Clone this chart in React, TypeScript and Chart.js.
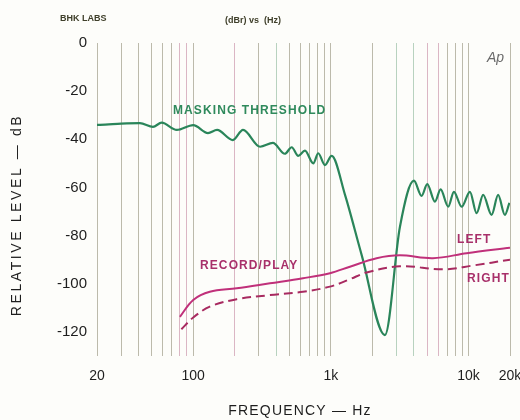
import React, { useEffect, useRef } from 'react';
import { Chart, registerables } from 'chart.js';

Chart.register(...registerables);

// ---- data ----
const maskFreq = [20, 21, 30, 41, 51, 59, 76, 100, 128, 149, 194, 230, 306, 379, 463, 519, 579, 648, 745, 809, 905, 1012, 1265, 1672, 2469, 3172, 4010, 4560, 5010, 5697, 6266, 7114, 7828, 8904, 10230, 11440, 12770, 14690, 16400, 18360, 19800];
const maskLevel = [-34, -34, -33.5, -33.3, -34.8, -33.1, -36.1, -34.1, -37.4, -36.1, -40.3, -36.1, -43.1, -41.5, -46, -43.3, -46.9, -44.7, -50, -45.8, -50.7, -46.9, -63, -88, -121.3, -76.4, -57.2, -63.5, -58.6, -65.9, -60.8, -68, -61.8, -68, -61.8, -70.7, -63.1, -71.4, -63.1, -71.4, -66.4];

const leftFreq = [80, 100, 132, 207, 361, 627, 984, 1375, 2148, 3172, 5508, 9680, 20000];
const leftLevel = [-113.7, -106.7, -103.3, -101.9, -99.8, -97.7, -95.6, -92.9, -89.4, -88.2, -89.4, -87.3, -85];

const rightFreq = [82, 100, 132, 207, 361, 627, 984, 1375, 1818, 3172, 6544, 10800, 20000];
const rightLevel = [-118.9, -114, -109.5, -106.4, -104.7, -103.3, -101.2, -98.1, -95.3, -92.7, -94, -92.4, -90];

const xTickValues = [20, 100, 1000, 10000, 20000];
const xTickLabels = ['20', '100', '1k', '10k', '20k'];
const yTickValues = [0, -20, -40, -60, -80, -100, -120];

const gridFreqs: number[] = [];
for (const d of [10, 100, 1000, 10000]) {
  for (let m = 1; m <= 9; m++) {
    const f = m * d;
    if (f >= 20 && f <= 20000) gridFreqs.push(f);
  }
}

const pinkGrid = [80, 90, 200, 5000, 6000];
const greenGrid = [400, 3000, 4000];

const toPts = (xs: number[], ys: number[]) => xs.map((x, i) => ({ x, y: ys[i] }));

const FONT = '"Liberation Sans", Arial, sans-serif';

const annotations = {
  id: 'annotations',
  beforeDraw(chart: any) {
    const c = chart.ctx;
    c.save();
    c.fillStyle = '#fdfdfa';
    c.fillRect(0, 0, chart.width, chart.height);
    c.restore();
  },
  afterDraw(chart: any) {
    const c = chart.ctx as any;
    const txt = (s: string, x: number, y: number, font: string, color: string, spacing = '0px', align: CanvasTextAlign = 'left') => {
      c.save();
      c.font = font;
      c.fillStyle = color;
      c.letterSpacing = spacing;
      c.textAlign = align;
      c.textBaseline = 'middle';
      c.fillText(s, x, y);
      c.restore();
    };
    txt('BHK LABS', 60, 19, `bold 9px ${FONT}`, '#3f3f2a', '0px');
    txt('(dBr) vs  (Hz)', 225, 21, `bold 9px ${FONT}`, '#3f3f2a', '0px');
    txt('Ap', 487, 58, `italic 14px ${FONT}`, '#6a6a6a', '0px');
    txt('MASKING THRESHOLD', 173, 111, `bold 12px ${FONT}`, '#2f8a5c', '1.1px');
    txt('RECORD/PLAY', 200, 266, `bold 12px ${FONT}`, '#a8306a', '1.1px');
    txt('LEFT', 457, 240, `bold 12px ${FONT}`, '#a8306a', '1.1px');
    txt('RIGHT', 467, 279, `bold 12px ${FONT}`, '#a8306a', '1.1px');
    txt('FREQUENCY — Hz', 300, 411, `14px ${FONT}`, '#1e1e1e', '1.2px', 'center');
    c.save();
    c.translate(17, 215);
    c.rotate(-Math.PI / 2);
    c.font = `14px ${FONT}`;
    c.letterSpacing = '2.6px';
    c.fillStyle = '#1e1e1e';
    c.textAlign = 'center';
    c.textBaseline = 'middle';
    c.fillText('RELATIVE LEVEL — dB', 0, 0);
    c.restore();
  },
};

export default function App() {
  const ref = useRef<HTMLCanvasElement>(null);
  useEffect(() => {
    if (!ref.current) return;
    const chart = new Chart(ref.current, {
      type: 'line',
      data: {
        datasets: [
          {
            label: 'Left',
            data: toPts(leftFreq, leftLevel),
            borderColor: '#c0307a',
            borderWidth: 2,
            pointRadius: 0,
            tension: 0.35,
            fill: false,
          },
          {
            label: 'Right',
            data: toPts(rightFreq, rightLevel),
            borderColor: '#a82a60',
            borderWidth: 2,
            borderDash: [9, 5],
            pointRadius: 0,
            tension: 0.35,
            fill: false,
          },
          {
            label: 'Masking threshold',
            data: toPts(maskFreq, maskLevel),
            borderColor: '#2a855a',
            borderWidth: 2.2,
            pointRadius: 0,
            cubicInterpolationMode: 'monotone',
            fill: false,
          },
        ],
      },
      options: {
        responsive: false,
        animation: false,
        parsing: false as any,
        layout: { padding: { left: 0, top: 43, right: 10, bottom: 0 } },
        plugins: { legend: { display: false }, tooltip: { enabled: false }, title: { display: false } },
        scales: {
          x: {
            type: 'logarithmic',
            min: 20,
            max: 20000,
            border: { display: false },
            grid: {
              drawTicks: false,
              lineWidth: 1,
              color: (ctx: any) => {
                const v = ctx.tick?.value;
                if (pinkGrid.includes(v)) return '#dbb6c4';
                if (greenGrid.includes(v)) return '#b8d2bf';
                return '#bcbaab';
              },
            },
            afterBuildTicks: (scale: any) => {
              scale.ticks = gridFreqs.map((v) => ({ value: v }));
            },
            afterFit: (scale: any) => {
              scale.height = 64;
              scale.paddingLeft = 0;
              scale.paddingRight = 0;
            },
            ticks: {
              autoSkip: false,
              maxRotation: 0,
              minRotation: 0,
              padding: 12,
              color: '#1e1e1e',
              font: { family: FONT, size: 14 },
              callback: (v: any) => {
                const i = xTickValues.indexOf(Number(v));
                return i >= 0 ? xTickLabels[i] : '';
              },
            },
          },
          y: {
            type: 'linear',
            min: -130,
            max: 0,
            border: { display: false },
            grid: { display: false, drawTicks: false },
            afterBuildTicks: (scale: any) => {
              scale.ticks = yTickValues.map((v) => ({ value: v }));
            },
            afterFit: (scale: any) => {
              scale.width = 97;
              scale.paddingTop = 0;
              scale.paddingBottom = 0;
            },
            ticks: {
              padding: 10,
              color: '#1e1e1e',
              font: { family: FONT, size: 15 },
              callback: (v: any) => String(v),
            },
          },
        },
      },
      plugins: [annotations],
    });
    return () => chart.destroy();
  }, []);
  return (
    <div style={{ position: 'fixed', left: 0, top: 0, width: 520, height: 420 }}>
      <canvas ref={ref} width={520} height={420} />
    </div>
  );
}
